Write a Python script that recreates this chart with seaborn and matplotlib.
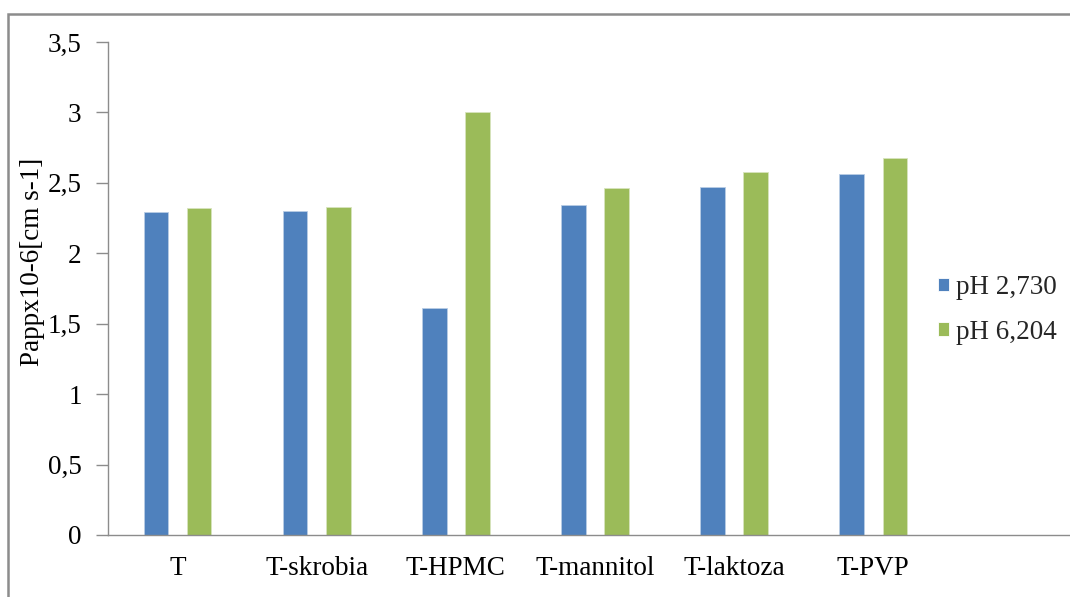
import matplotlib
matplotlib.use("Agg")
import matplotlib.pyplot as plt
from matplotlib.patches import Rectangle
from matplotlib.ticker import FixedLocator, FuncFormatter
import seaborn as sns
import pandas as pd

categories = ["T", "T-skrobia", "T-HPMC", "T-mannitol", "T-laktoza", "T-PVP"]
series_names = ["pH 2,730", "pH 6,204"]
ph_2730 = [2.29, 2.30, 1.61, 2.34, 2.47, 2.56]
ph_6204 = [2.32, 2.33, 3.00, 2.46, 2.58, 2.68]
y_ticks = [0, 0.5, 1, 1.5, 2, 2.5, 3, 3.5]
y_label = "Pappx10-6[cm s-1]"

df = pd.DataFrame({
    "kategoria": categories * 2,
    "seria": [series_names[0]] * len(categories) + [series_names[1]] * len(categories),
    "wartosc": ph_2730 + ph_6204,
})

sns.set_theme(style="white")
plt.rcParams["font.family"] = ["Liberation Serif", "DejaVu Serif"]

W, H = 1070, 597
FS = 19.5
fig = plt.figure(figsize=(W / 100, H / 100), dpi=100)
fig.patch.set_facecolor("white")

# outer chart frame
fig.patches.append(Rectangle((8 / W, -0.1), 1.2, (H - 14) / H + 0.1,
                             transform=fig.transFigure, fill=False,
                             edgecolor="#8c8c8c", linewidth=1.8, zorder=0))

# plot area: seven category slots, the last one empty
left, right, top, bottom = 108, 1082, 42, 535
ax = fig.add_axes([left / W, (H - bottom) / H, (right - left) / W, (bottom - top) / H])

palette = {series_names[0]: "#4F81BD", series_names[1]: "#9BBB59"}
sns.barplot(data=df, x="kategoria", y="wartosc", hue="seria", order=categories,
            hue_order=series_names, palette=palette, width=0.62, gap=0.43,
            saturation=1, linewidth=0.6, ax=ax, legend=True)
for i, cont in enumerate(ax.containers):
    for bar in cont:
        bar.set_edgecolor(["#b9cde5", "#d7e4bd"][i])

ax.set_xlim(-0.5, 6.5)
ax.set_ylim(0, 3.5)
ax.set_yticks(y_ticks)
ax.yaxis.set_major_formatter(FuncFormatter(lambda v, p: f"{v:g}".replace(".", ",")))

ax.set_xticks(range(len(categories)))
ax.set_xticklabels(categories)
ax.xaxis.set_minor_locator(FixedLocator([k - 0.5 for k in range(8)]))
ax.tick_params(axis="x", which="major", length=0, pad=15, labelsize=FS, labelcolor="black")
ax.tick_params(axis="x", which="minor", length=9, width=1, color="#8c8c8c", direction="out")
ax.tick_params(axis="y", which="major", length=9, width=1, color="#8c8c8c", direction="out",
               pad=10, labelsize=FS, labelcolor="black", left=True)

for s in ["top", "right"]:
    ax.spines[s].set_visible(False)
for s in ["left", "bottom"]:
    ax.spines[s].set_color("#8c8c8c")
    ax.spines[s].set_linewidth(1.0)

ax.set_xlabel("")
ax.set_ylabel("")
fig.text(33 / W, 1 - 262 / H, y_label, rotation=90, ha="center", va="center",
         fontsize=FS, color="black")

handles, labels = ax.get_legend_handles_labels()
ax.legend(handles, labels, loc="center left", bbox_to_anchor=(938 / W, 1 - 310 / H),
          bbox_transform=fig.transFigure, frameon=False, fontsize=FS,
          handlelength=0.4, handleheight=0.4, handletextpad=0.25, labelspacing=0.72,
          borderpad=0, borderaxespad=0)

fig.savefig("out.png", dpi=100, facecolor="white")
